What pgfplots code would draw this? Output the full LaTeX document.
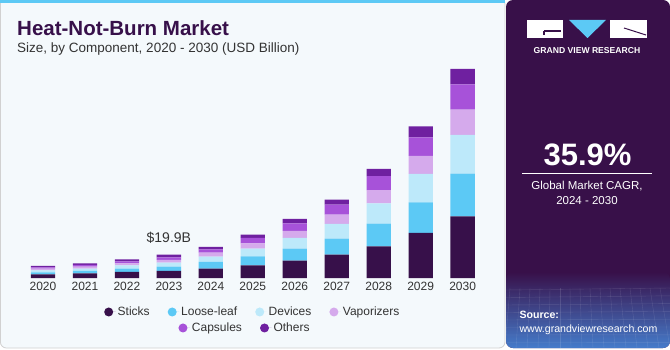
\documentclass[border=0pt]{standalone}
\usepackage{pgfplots}
\pgfplotsset{compat=1.18}
\usepackage{fontspec}
\setmainfont{Liberation Sans}
\definecolor{cstick}{HTML}{37104A}
\definecolor{cloose}{HTML}{5CC9F5}
\definecolor{cdev}{HTML}{BDE9FA}
\definecolor{cvap}{HTML}{D5AAEC}
\definecolor{ccap}{HTML}{A752D9}
\definecolor{coth}{HTML}{6F20A0}
\definecolor{bgl}{HTML}{F4F9FC}
\definecolor{panel}{HTML}{381049}
\definecolor{topblue}{HTML}{5CC9F5}
\definecolor{txt}{HTML}{333333}

\pgfplotstableread{
x stick loose dev vap cap oth
0 3.1 1.7 1.7 1.4 1.1 1.4
1 4.0 2.0 2.0 1.7 1.4 1.4
2 5.1 2.9 2.8 1.7 1.7 1.7
3 6.0 3.7 3.4 2.2 2.3 2.3
4 8.0 5.6 4.6 3.4 2.8 2.0
5 10.7 7.7 6.5 4.5 4.6 2.8
6 14.7 10.2 9.1 6.0 6.5 3.7
7 19.8 13.6 12.5 7.9 8.5 4.3
8 26.9 19.3 17.3 11.1 11.9 6.3
9 38.3 26.0 24.1 15.3 15.8 9.4
10 52.4 36.3 32.9 21.5 21.5 13.1
}\datatable

\begin{document}
\begin{tikzpicture}
\path[use as bounding box] (0pt,0pt) rectangle (670pt,-350pt);
% left panel
\fill[white] (0pt,0pt) rectangle (670pt,-350pt);
\draw[fill=bgl, draw=black!18, line width=0.8pt, rounded corners=6pt] (0.4pt,2pt) rectangle (505pt,-348pt);
\fill[topblue] (0pt,0pt) rectangle (505pt,-3pt);
% right panel
\fill[panel, rounded corners=7pt] (506pt,0pt) -- (670pt,0pt) -- (670pt,-348pt) -- (506pt,-348pt) -- cycle;
\shade[top color=panel, bottom color=panel!30!cloose!85!blue, rounded corners=7pt] (506pt,-272pt) -- (670pt,-272pt) -- (670pt,-348pt) -- (506pt,-348pt) -- cycle;
\fill[panel] (506pt,-258pt) rectangle (670pt,-273pt);
% grid hint
\foreach \i in {0,...,16} {\draw[white, opacity=0.12, line width=0.4pt] (510pt+\i*10pt,-288pt) -- (505pt+\i*11pt,-348pt);}
\foreach \j in {0,...,7} {\draw[white, opacity=0.12, line width=0.4pt] (506pt,-290pt-\j*7.5pt) -- (670pt,-288pt-\j*7.8pt);}
% logo
\fill[white] (527pt,-20pt) rectangle (563pt,-38pt);
\draw[panel, line width=1.2pt] (544pt,-31pt) -- (561pt,-31pt);
\draw[panel, line width=1.2pt] (544pt,-31pt) -- (544pt,-35pt);
\fill[topblue] (569pt,-20pt) -- (606pt,-20pt) -- (587.5pt,-38pt) -- cycle;
\fill[white] (610pt,-20pt) rectangle (647pt,-38pt);
\draw[panel, line width=1.0pt] (624pt,-28pt) -- (646pt,-35pt);
\node[text=white, font=\bfseries\fontsize{8.6}{10}\selectfont] at (587pt,-51pt) {GRAND VIEW RESEARCH};
\node[text=white, font=\bfseries\fontsize{31}{34}\selectfont] at (587.5pt,-155pt) {35.9\%};
\draw[white, line width=0.8pt] (522pt,-173.5pt) -- (652pt,-173.5pt);
\node[text=white, font=\fontsize{11.5}{14}\selectfont, align=center] at (587pt,-193pt) {Global Market CAGR,\\[1pt]2024 - 2030};
\node[text=white, font=\bfseries\fontsize{10.6}{12}\selectfont, anchor=west] at (516pt,-315pt) {Source:};
\node[text=white, font=\fontsize{10.6}{12}\selectfont, anchor=west] at (516pt,-330pt) {www.grandviewresearch.com};
% titles
\node[text=cstick, font=\bfseries\fontsize{20.5}{24}\selectfont, anchor=base west, inner sep=0pt] at (17pt,-36pt) {Heat-Not-Burn Market};
\node[text=txt, font=\fontsize{13.5}{16}\selectfont, anchor=base west, inner sep=0pt] at (17pt,-53pt) {Size, by Component, 2020 - 2030 (USD Billion)};

\begin{axis}[
  at={(1pt,-278pt)}, anchor=south west,
  scale only axis, width=503.6pt, height=211.8pt,
  xmin=-1, xmax=11, ymin=0, ymax=180,
  ybar stacked, bar width=24.3pt,
  hide y axis,
  axis x line*=bottom, x axis line style={draw=none},
  xtick=data, major tick length=0pt,
  xticklabels={2020,2021,2022,2023,2024,2025,2026,2027,2028,2029,2030},
  xticklabel style={font=\fontsize{12}{14}\selectfont, text=txt, yshift=-1pt},
  clip=false,
]
\addplot[fill=cstick, draw=none] table[x=x, y=stick] {\datatable};
\addplot[fill=cloose, draw=none] table[x=x, y=loose] {\datatable};
\addplot[fill=cdev, draw=none] table[x=x, y=dev] {\datatable};
\addplot[fill=cvap, draw=none] table[x=x, y=vap] {\datatable};
\addplot[fill=ccap, draw=none] table[x=x, y=cap] {\datatable};
\addplot[fill=coth, draw=none] table[x=x, y=oth] {\datatable};
\node[anchor=south, font=\fontsize{14}{16}\selectfont, text=txt] at (axis cs:3,19.9) [yshift=8pt] {\$19.9B};
\end{axis}

\begin{axis}[
  at={(1pt,-278pt)}, anchor=south west,
  scale only axis, width=503.6pt, height=211.8pt,
  xmin=0, xmax=1, ymin=0, ymax=1, hide axis,
  legend image code/.code={\path (0pt,0pt) -- (11.5pt,0pt); \fill[#1] (4.5pt,0pt) circle (4.5pt);},
  legend columns=4,
  legend style={at={(0.5,-0.1605)}, anchor=center, draw=none, fill=none, inner sep=0pt,
    font=\fontsize{12}{14}\selectfont, text=txt,
    /tikz/every even column/.append style={column sep=16pt}},
]
\addlegendimage{fill=cstick, draw=none}\addlegendentry{Sticks}
\addlegendimage{fill=cloose, draw=none}\addlegendentry{Loose-leaf}
\addlegendimage{fill=cdev, draw=none}\addlegendentry{Devices}
\addlegendimage{fill=cvap, draw=none}\addlegendentry{Vaporizers}
\end{axis}

\begin{axis}[
  at={(1pt,-278pt)}, anchor=south west,
  scale only axis, width=503.6pt, height=211.8pt,
  xmin=0, xmax=1, ymin=0, ymax=1, hide axis,
  legend image code/.code={\path (0pt,0pt) -- (11.5pt,0pt); \fill[#1] (4.5pt,0pt) circle (4.5pt);},
  legend columns=2,
  legend style={at={(0.4845,-0.236)}, anchor=center, draw=none, fill=none, inner sep=0pt,
    font=\fontsize{12}{14}\selectfont, text=txt,
    /tikz/every even column/.append style={column sep=16pt}},
]
\addlegendimage{fill=ccap, draw=none}\addlegendentry{Capsules}
\addlegendimage{fill=coth, draw=none}\addlegendentry{Others}
\end{axis}
\end{tikzpicture}
\end{document}
